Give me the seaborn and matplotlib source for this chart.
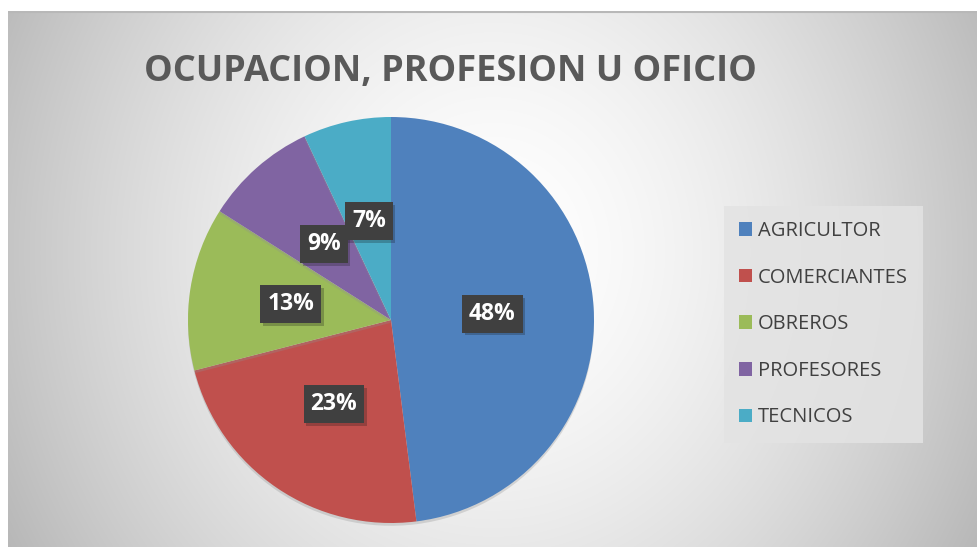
import numpy as np
import matplotlib
matplotlib.use("Agg")
import matplotlib.pyplot as plt
import matplotlib.patheffects as pe
from matplotlib.patches import Patch
import seaborn as sns

# Data
categories = ["AGRICULTOR", "COMERCIANTES", "OBREROS", "PROFESORES", "TECNICOS"]
percentages = [48, 23, 13, 9, 7]
colors = ["#4F81BD", "#C0504D", "#9BBB59", "#8064A2", "#4BACC6"]
title = "OCUPACION, PROFESION U OFICIO"

sns.set_theme(style="white")
plt.rcParams["font.family"] = ["Open Sans", "DejaVu Sans"]

fig = plt.figure(figsize=(9.78, 5.47), dpi=100)
fig.patch.set_facecolor("white")

# Background with radial gradient (Excel style)
bg = fig.add_axes([8 / 978, 0, 970 / 978, 536 / 547])
h, w = 536, 970
yy, xx = np.mgrid[0:h, 0:w]
d = np.sqrt(((xx - w * 0.5) / (w * 0.5)) ** 2 + ((yy - h * 0.45) / (h * 1.0)) ** 2)
gray = 255 - 58 * np.clip(d, 0, 1.3) ** 1.6
img = np.dstack([gray, gray, gray]) / 255
bg.imshow(np.clip(img, 0, 1), aspect="auto", extent=[0, w, h, 0])
bg.plot([0, w], [1, 1], color="#B8B8B8", lw=1.5)
bg.set_xlim(0, w)
bg.set_ylim(h, 0)
bg.axis("off")

# Pie
cx, cy, r = 391, 320, 203
ax = fig.add_axes([(cx - r) / 978, (547 - cy - r) / 547, 2 * r / 978, 2 * r / 547])
wedges, texts, autotexts = ax.pie(
    percentages,
    colors=colors,
    startangle=90,
    counterclock=False,
    autopct="%1.0f%%",
    pctdistance=0.5,
    wedgeprops=dict(linewidth=0),
    textprops=dict(color="white", fontsize=16.5, fontweight="bold"),
)
for w_ in wedges:
    w_.set_path_effects([pe.SimplePatchShadow(offset=(0, -2), shadow_rgbFace="#909090", alpha=0.3), pe.Normal()])
for t in autotexts:
    t.set_bbox(dict(boxstyle="square,pad=0.3", facecolor="#404040", edgecolor="none"))
    t.get_bbox_patch().set_path_effects([pe.SimplePatchShadow(offset=(2, -2), alpha=0.25), pe.Normal()])
ax.set_xlim(-1, 1)
ax.set_ylim(-1, 1)
ax.axis("off")

# Title
fig.text(450 / 978, 1 - 72 / 547, title, ha="center", va="center",
         fontsize=26, fontweight="bold", color="#595959")

# Legend
handles = [Patch(facecolor=c, edgecolor="none") for c in colors]
leg = fig.legend(handles, categories, loc="upper left",
                 bbox_to_anchor=(724 / 978, 1 - 206 / 547),
                 frameon=True, facecolor="#E3E3E3", edgecolor="none", framealpha=0.85,
                 fontsize=14.5, labelcolor="#404040", labelspacing=1.32,
                 handlelength=0.65, handleheight=0.65, handletextpad=0.3,
                 borderpad=0.75, borderaxespad=0, fancybox=False)
leg.get_frame().set_width(205)

fig.savefig("out.png", dpi=100)
